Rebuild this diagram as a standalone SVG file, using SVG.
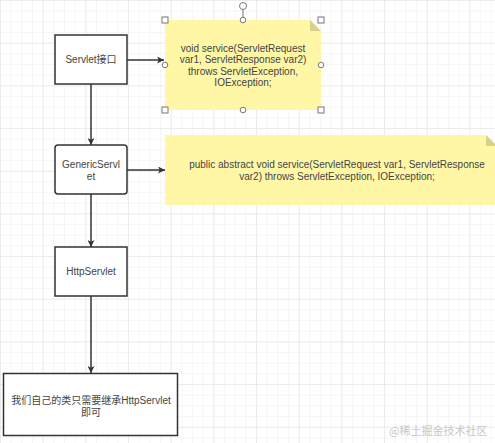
<svg xmlns="http://www.w3.org/2000/svg" width="495" height="443" viewBox="0 0 495 443">
<defs>
<pattern id="minor" width="10.67" height="10.67" patternUnits="userSpaceOnUse" x="1" y="1">
<path d="M10.67 0V10.67H0" fill="none" stroke="#eeeeee" stroke-width="1"/>
</pattern>
<pattern id="major" width="42.67" height="42.67" patternUnits="userSpaceOnUse" x="1" y="1">
<path d="M42.67 0V42.67H0" fill="none" stroke="#e2e2e2" stroke-width="1"/>
</pattern>
<marker id="arr" viewBox="0 0 10 10" refX="10" refY="5" markerWidth="7" markerHeight="7" markerUnits="userSpaceOnUse" orient="auto">
<path d="M0 0L10 5L0 10L2.5 5Z" fill="#333"/>
</marker>
</defs>
<style>
.box{fill:#fff;stroke:#333;stroke-width:1.5}
.note{fill:#fff7a6}
.fold{fill:#d9d08a}
.t{font-family:"Liberation Sans","Noto Sans CJK SC",sans-serif;font-size:10px;fill:#444;text-anchor:middle}
.c{stroke:#333;stroke-width:1.5;fill:none;marker-end:url(#arr)}
.h{fill:#fff;stroke:#777;stroke-width:1}
.wm{font-family:"Noto Sans CJK SC",sans-serif;font-size:11px;fill:#c8c8c8}
</style>
<rect width="495" height="443" fill="#fff"/>
<rect width="495" height="443" fill="url(#minor)"/>
<rect width="495" height="443" fill="url(#major)"/>

<g id="connectors">
<line class="c" x1="127" y1="60" x2="164" y2="60"/>
<line class="c" x1="127" y1="170" x2="165" y2="170"/>
<line class="c" x1="91" y1="84" x2="91" y2="145"/>
<line class="c" x1="91" y1="194" x2="91" y2="247"/>
<line class="c" x1="91" y1="296" x2="91" y2="373"/>
</g>

<g id="servlet">
<rect class="box" x="55" y="35" width="72" height="49"/>
<text class="t" x="91" y="63">Servlet接口</text>
</g>

<g id="note1">
<path class="note" d="M165 20H310L321 31V110H165Z"/>
<path class="fold" d="M310 20L321 31H310Z"/>
<text class="t" x="243" y="51.5">void service(ServletRequest</text>
<text class="t" x="243" y="63">var1, ServletResponse var2)</text>
<text class="t" x="243" y="74.5">throws ServletException,</text>
<text class="t" x="243" y="86">IOException;</text>
</g>

<g id="selection">
<line x1="243" y1="9" x2="243" y2="20" stroke="#777" stroke-width="1"/>
<circle class="h" cx="243" cy="6" r="3.5"/>
<rect class="h" x="162" y="17" width="6" height="6"/>
<rect class="h" x="318" y="17" width="6" height="6"/>
<rect class="h" x="162" y="107" width="6" height="6"/>
<rect class="h" x="318" y="107" width="6" height="6"/>
<circle class="h" cx="243" cy="20" r="2.8"/>
<circle class="h" cx="243" cy="110" r="2.8"/>
<circle class="h" cx="165" cy="65" r="2.8"/>
<circle class="h" cx="321" cy="65" r="2.8"/>
</g>

<g id="genericservlet">
<rect class="box" x="55" y="145" width="72" height="49" rx="3"/>
<text class="t" x="91" y="168">GenericServl</text>
<text class="t" x="91" y="179.5">et</text>
</g>

<g id="note2">
<path class="note" d="M165 135H486L497 146V205H165Z"/>
<path class="fold" d="M486 135L497 146H486Z"/>
<text class="t" x="337" y="168">public abstract void service(ServletRequest var1, ServletResponse</text>
<text class="t" x="337" y="179.5">var2) throws ServletException, IOException;</text>
</g>

<g id="httpservlet">
<rect class="box" x="55" y="247" width="72" height="49"/>
<text class="t" x="91" y="275">HttpServlet</text>
</g>

<g id="myclass">
<rect class="box" x="3.5" y="373.5" width="174" height="62"/>
<text class="t" x="91" y="403.5">我们自己的类只需要继承HttpServlet</text>
<text class="t" x="91" y="416">即可</text>
</g>

<text class="wm" x="389" y="435">@稀土掘金技术社区</text>
</svg>
